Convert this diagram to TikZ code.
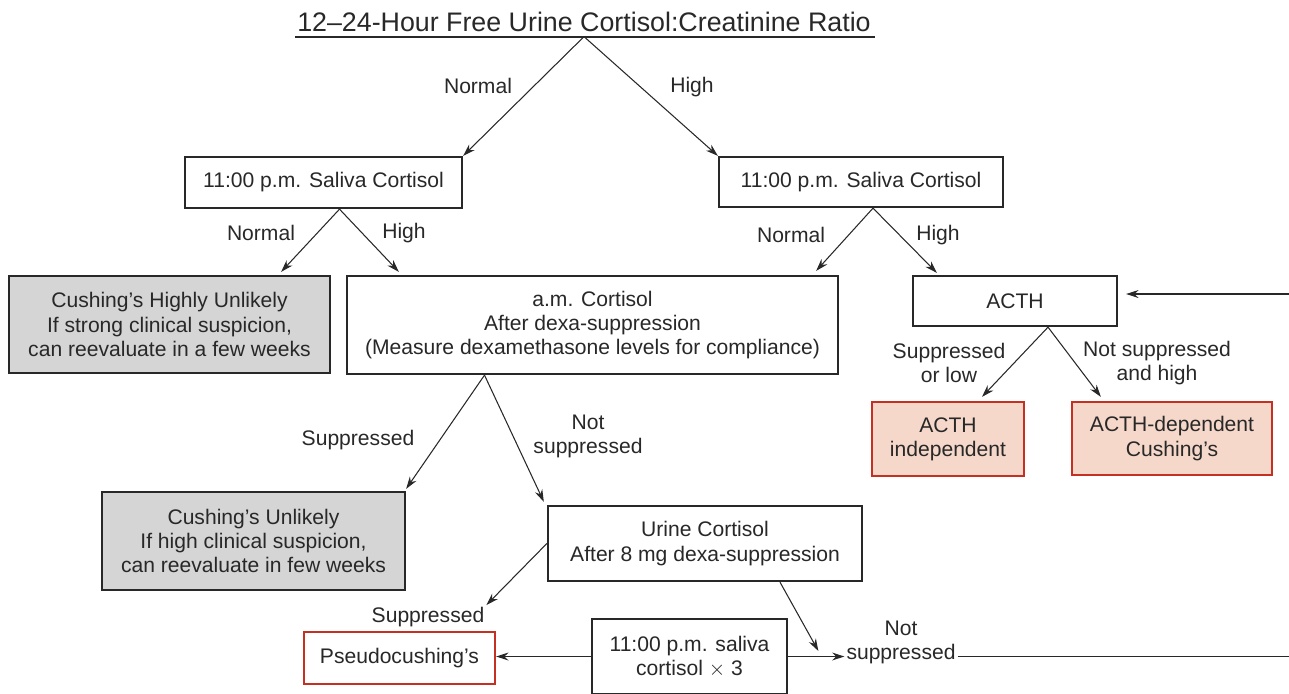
\documentclass[tikz,border=0pt]{standalone}
\usepackage{fontspec}
\setmainfont{Liberation Sans}
\usetikzlibrary{arrows.meta,calc}
\definecolor{ink}{RGB}{40,40,40}
\definecolor{shade}{RGB}{213,213,213}
\definecolor{blush}{RGB}{246,216,202}
\definecolor{alert}{RGB}{196,48,34}

\begin{document}
\begin{tikzpicture}[x=0.2mm, y=-0.2mm, font=\fontsize{12}{13.7}\selectfont, text=ink,
  >={Stealth[length=7pt,width=4.5pt]},
  bx/.style={draw=ink, line width=1.3pt, fill=white, align=center, inner sep=1pt},
  gbx/.style={bx, fill=shade},
  rbx/.style={bx, draw=alert, fill=blush},
  pbx/.style={bx, draw=alert},
  lbl/.style={align=center, inner sep=1pt},
  arr/.style={->, draw=ink, line width=0.6pt}]
  \useasboundingbox (0,0) rectangle (1289,693);

  \node[inner sep=0pt, anchor=base, font=\fontsize{15.25}{18}\selectfont] (title) at (584,31) {12–24-Hour Free Urine Cortisol:Creatinine Ratio};
  \draw[ink, line width=1.1pt] ([shift={(-1pt,-1mm)}]title.south west) -- ([shift={(2pt,-1mm)}]title.south east);

  % first level
  \node[bx, minimum width=55.4mm, minimum height=10.2mm] (sal1) at (323.5,182.5) {11:00 p.m. Saliva Cortisol};
  \node[bx, minimum width=56.8mm, minimum height=10mm] (sal2) at (861,182) {11:00 p.m. Saliva Cortisol};
  \draw[arr] ([yshift=-1mm]title.south) -- (sal1.north east);
  \draw[arr] ([yshift=-1mm]title.south) -- (sal2.north west);
  \node[lbl] (n1) at (478,86) {Normal};
  \node[lbl] (h1) at (692,87) {High};

  % second level
  \node[gbx, minimum width=64.2mm, minimum height=19.4mm] (gray1) at (169.5,324.5) {Cushing’s Highly Unlikely\\If strong clinical suspicion,\\can reevaluate in a few weeks};
  \node[bx, minimum width=98.2mm, minimum height=19.6mm] (amc) at (592.5,325) {a.m. Cortisol\\After dexa-suppression\\(Measure dexamethasone levels for compliance)};
  \node[bx, minimum width=40.8mm, minimum height=10mm] (acth) at (1015,301) {ACTH};
  \draw[arr] ($(sal1.south)+(16,0)$) -- ($(gray1.north east)+(-50,-3)$);
  \draw[arr] ($(sal1.south)+(16,0)$) -- ($(amc.north west)+(53,-3)$);
  \draw[arr] ($(sal2.south)+(12,0)$) -- ($(amc.north east)+(-23,-4)$);
  \draw[arr] ($(sal2.south)+(12,0)$) -- ($(acth.north west)+(25,-2)$);
  \node[lbl] (n2) at (261,233) {Normal};
  \node[lbl] (h2) at (404,233) {High};
  \node[lbl] (n3) at (791,235) {Normal};
  \node[lbl] (h3) at (938,235) {High};

  % ACTH branch
  \node[rbx, minimum width=30.4mm, minimum height=14.8mm] (indep) at (948,439) {ACTH\\independent};
  \node[rbx, minimum width=40mm, minimum height=14.6mm] (dep) at (1172,438.5) {ACTH-dependent\\Cushing’s};
  \draw[arr] ($(acth.south)+(33,0)$) -- ($(indep.north)+(34,-4)$);
  \draw[arr] ($(acth.south)+(33,0)$) -- ($(dep.north west)+(30,-4)$);
  \node[lbl] (slow) at (949,363) {Suppressed\\or low};
  \node[lbl] (nhigh) at (1157,363) {Not suppressed\\and high};

  % dexa branch
  \node[gbx, minimum width=60.6mm, minimum height=19.6mm] (gray2) at (253.5,541) {Cushing’s Unlikely\\If high clinical suspicion,\\can reevaluate in few weeks};
  \node[bx, minimum width=62.8mm, minimum height=15mm] (uc) at (705,543.5) {Urine Cortisol\\After 8 mg dexa-suppression};
  \draw[arr] ($(amc.south)+(-108,0)$) -- ($(gray2.north east)+(0,-2)$);
  \draw[arr] ($(amc.south)+(-108,0)$) -- ($(uc.north west)+(-3,-3)$);
  \node[lbl] (sup1) at (358,440) {Suppressed};
  \node[lbl] (nsup1) at (588,436) {Not\\suppressed};

  % last level
  \node[bx, minimum width=39mm, minimum height=15mm] (saliva) at (689.5,656.5) {11:00 p.m. saliva\\cortisol $\times$ 3};
  \node[pbx, minimum width=38.2mm, minimum height=10.4mm] (pseudo) at (399.5,658) {Pseudocushing’s};
  \node[lbl] (sup2) at (428,617) {Suppressed};
  \node[lbl] (nsup2) at (901,642) {Not\\suppressed};
  \coordinate (edgeB) at (1289,656.5);
  \coordinate (edgeT) at (1289,294);
  \draw[arr] (uc.west) -- (sup2.north east);
  \draw[arr] (saliva.west) -- (saliva.west -| pseudo.east);
  \draw[arr] ($(uc.south)+(75,0)$) -- ($(nsup2.west)+(-26,9)$);
  \draw[arr] (saliva.east) -- (saliva.east -| nsup2.west);
  \draw[ink, line width=0.6pt] (saliva.east -| nsup2.east) -- (edgeB);
  \draw[arr, shorten >=1.6mm] (edgeT) -- (edgeT -| acth.east);
\end{tikzpicture}
\end{document}
